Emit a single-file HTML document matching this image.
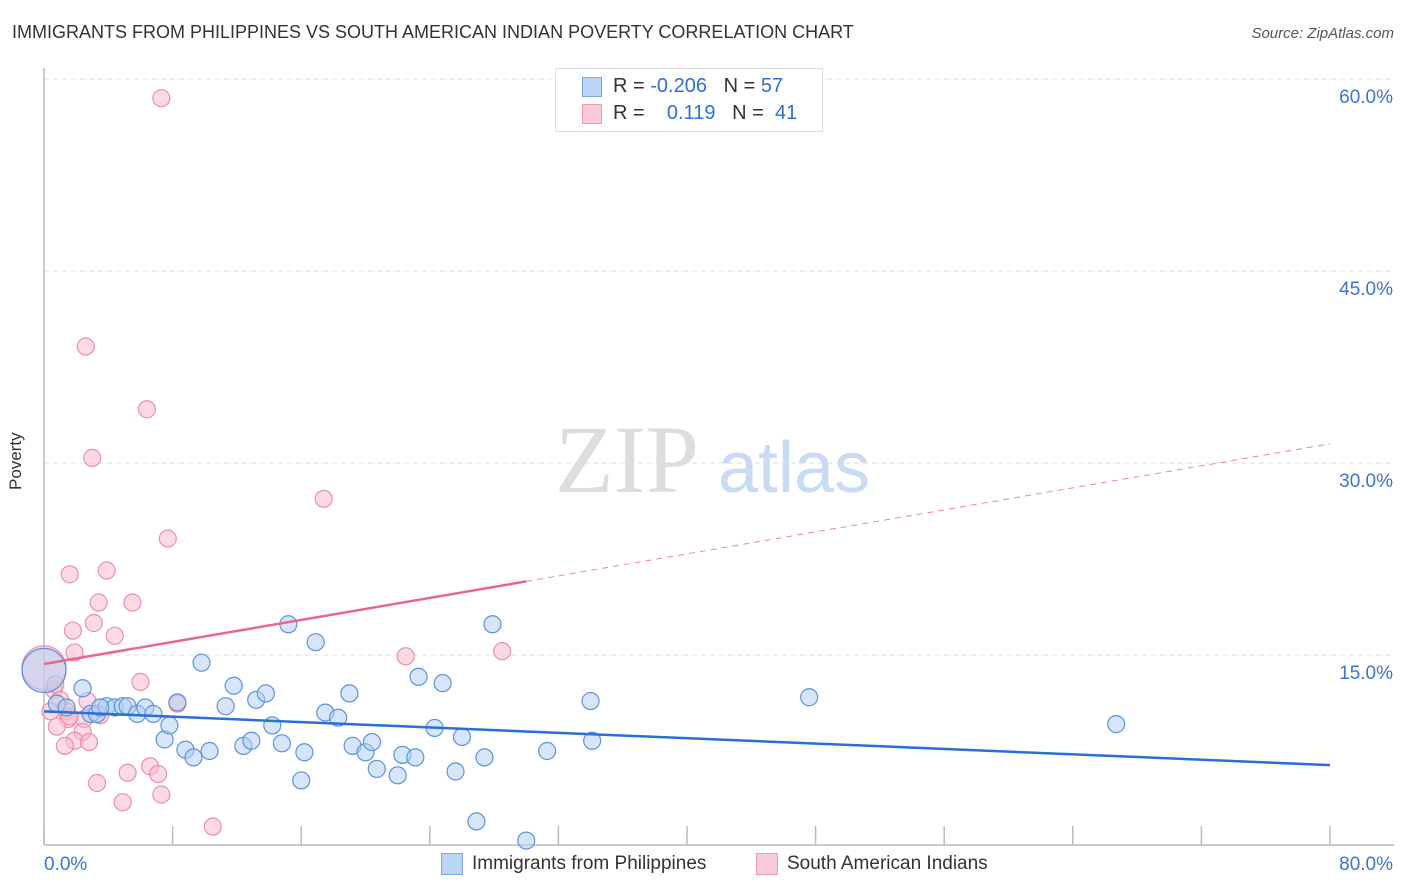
<!DOCTYPE html>
<html><head><meta charset="utf-8"><style>
body{margin:0;background:#fff;font-family:"Liberation Sans",sans-serif;}
#wrap{position:relative;width:1406px;height:892px;}
.t{position:absolute;white-space:nowrap;}
</style></head><body>
<div id="wrap">
<div class="t" style="left:12px;top:22px;font-size:18px;color:#333;">IMMIGRANTS FROM PHILIPPINES VS SOUTH AMERICAN INDIAN POVERTY CORRELATION CHART</div>
<div class="t" style="right:12px;top:25px;font-size:15px;color:#555;font-style:italic;">Source: ZipAtlas.com</div>
<div class="t" style="left:6px;top:440px;font-size:17px;color:#333;transform:rotate(-90deg);transform-origin:left top;top:490px;">Poverty</div>
<svg id="svg" width="1406" height="892" style="position:absolute;left:0;top:0">
<text x="555" y="492" font-family="Liberation Serif" font-size="96" fill="#ddd">ZIP</text>
<text x="718" y="492" font-family="Liberation Sans" font-size="72" fill="#c9daf3">atlas</text>
</svg>
<div style="position:absolute;left:555px;top:68px;width:266px;height:62px;border:1px solid #ddd;background:#fff;">
 <div style="position:absolute;left:26px;top:8px;width:18px;height:18px;background:#bcd5f5;border:1px solid #7aa6e6;"></div>
 <div class="t" style="left:57px;top:6px;font-size:20px;color:#333;">R = <span style="color:#2f6fd6">-0.206</span>&nbsp;&nbsp;&nbsp;N = <span style="color:#2f6fd6">57</span></div>
 <div style="position:absolute;left:26px;top:35px;width:18px;height:18px;background:#f9cbd8;border:1px solid #ee98b1;"></div>
 <div class="t" style="left:57px;top:33px;font-size:20px;color:#333;">R = &nbsp;&nbsp;&nbsp;<span style="color:#2f6fd6">0.119</span>&nbsp;&nbsp;&nbsp;N = &nbsp;<span style="color:#2f6fd6">41</span></div>
</div>
<div style="position:absolute;left:441px;top:853px;width:20px;height:20px;background:#bcd5f5;border:1px solid #7aa6e6;"></div>
<div class="t" style="left:472px;top:853px;font-size:19px;color:#333;">Immigrants from Philippines</div>
<div style="position:absolute;left:756px;top:853px;width:20px;height:20px;background:#f9cbd8;border:1px solid #ee98b1;"></div>
<div class="t" style="left:787px;top:853px;font-size:19px;color:#333;">South American Indians</div>
</div>
<script>
const yTicks=[15,30,45,60];
const yTickLabels=["15.0%","30.0%","45.0%","60.0%"];
const xTickVals=[0,8,16,24,32,40,48,56,64,72,80];
const blueX=[2.4,2.9,3.3,3.9,4.4,4.9,5.2,5.8,6.3,6.8,7.5,7.8,8.3,8.8,9.3,9.8,10.3,11.3,11.8,12.4,12.9,13.2,13.8,14.2,14.8,15.2,16.0,16.2,16.9,17.5,18.3,19.0,19.2,20.0,20.4,20.7,22.0,22.3,23.1,23.3,24.3,24.8,25.6,26.0,26.9,27.4,27.9,30.0,31.3,34.0,34.1,47.6,66.7,0.8,1.4,0.0,3.5];
const blueY=[12.4,10.4,10.4,11.0,10.9,11.0,11.0,10.4,10.9,10.4,8.4,9.5,11.3,7.6,7.0,14.4,7.5,11.0,12.6,7.9,8.3,11.5,12.0,9.5,8.1,17.4,5.2,7.4,16.0,10.5,10.1,12.0,7.9,7.4,8.2,6.1,5.6,7.2,7.0,13.3,9.3,12.8,5.9,8.6,2.0,7.0,17.4,0.5,7.5,11.4,8.3,11.7,9.6,11.2,10.9,13.8,10.9];
const pinkX=[7.3,2.6,6.4,3.0,17.4,7.7,1.6,3.9,3.4,5.5,1.8,3.1,4.4,1.9,6.0,22.5,28.5,8.3,0.6,1.0,1.4,0.4,2.7,2.5,1.5,0.8,2.4,1.9,2.8,1.3,6.6,7.1,5.2,3.3,7.3,4.9,10.5,0.0,0.7,1.6,3.5];
const pinkY=[58.5,39.1,34.2,30.4,27.2,24.1,21.3,21.6,19.1,19.1,16.9,17.5,16.5,15.2,12.9,14.9,15.3,11.2,12.3,11.5,10.6,10.6,11.4,10.0,10.0,9.4,9.0,8.3,8.2,7.9,6.3,5.7,5.8,5.0,4.1,3.5,1.6,14.0,12.7,10.2,10.3];
const blueTrendY=[10.6,6.4];
const pinkTrendY=[14.3,31.5];
const pinkSolidEnd=30;
const X=v=>44+v*16.075, Y=v=>847-v*12.8;
const svg=document.getElementById('svg');
const NS='http://www.w3.org/2000/svg';
function mk(tag,attrs){const e=document.createElementNS(NS,tag);for(const k in attrs)e.setAttribute(k,attrs[k]);svg.appendChild(e);return e;}
yTicks.forEach((v,i)=>{
 const g=mk('line',{x1:44,x2:1394,y1:Y(v),y2:Y(v),stroke:'#ddd','stroke-dasharray':'5,4'});
 
 
 const t=mk('text',{x:1393,y:Y(v)+24,'text-anchor':'end','font-size':19,fill:'#3b74d4','font-family':'Liberation Sans'});
 t.textContent=yTickLabels[i];
 
 
});
const ax=mk('line',{x1:44,x2:44,y1:68,y2:845,stroke:'#bbb','stroke-width':1.5});


const bx=mk('line',{x1:44,x2:1394,y1:845,y2:845,stroke:'#bbb','stroke-width':1.5});


xTickVals.forEach(v=>{
 const l=mk('line',{x1:X(v),x2:X(v),y1:826,y2:845,stroke:'#bbb','stroke-width':1.5});
 
 
});
[['0.0%',44,'start'],['80.0%',1393,'end']].forEach(a=>{
 const t=mk('text',{x:a[1],y:870,'text-anchor':a[2],'font-size':19,fill:'#3b74d4','font-family':'Liberation Sans'});
 t.textContent=a[0];
 
 
});
function dots(xs,ys,fill,stroke,name){
 xs.forEach((x,i)=>{
  const big=(x===0&&i>=xs.length-5);
  const c=mk('circle',{cx:X(x),cy:Y(ys[i]),r:big?22:8.5,fill:fill,'fill-opacity':0.55,stroke:stroke,'stroke-width':1.2});
  
  
 });
}
dots(pinkX,pinkY,'#f7bccc','#ec8fab','point-south-american-indian');
dots(blueX,blueY,'#b5d0f4','#5a93e0','point-philippines');
const bl=mk('line',{x1:X(0),y1:Y(blueTrendY[0]),x2:X(80),y2:Y(blueTrendY[1]),stroke:'#2a6fd8','stroke-width':2.5});


const py=x=>pinkTrendY[0]+(pinkTrendY[1]-pinkTrendY[0])*x/80;
const pl=mk('line',{x1:X(0),y1:Y(py(0)),x2:X(pinkSolidEnd),y2:Y(py(pinkSolidEnd)),stroke:'#e8668f','stroke-width':2.5});


const pd=mk('line',{x1:X(pinkSolidEnd),y1:Y(py(pinkSolidEnd)),x2:X(80),y2:Y(py(80)),stroke:'#e8889f','stroke-width':1,'stroke-dasharray':'6,5'});


</script>
</body></html>
